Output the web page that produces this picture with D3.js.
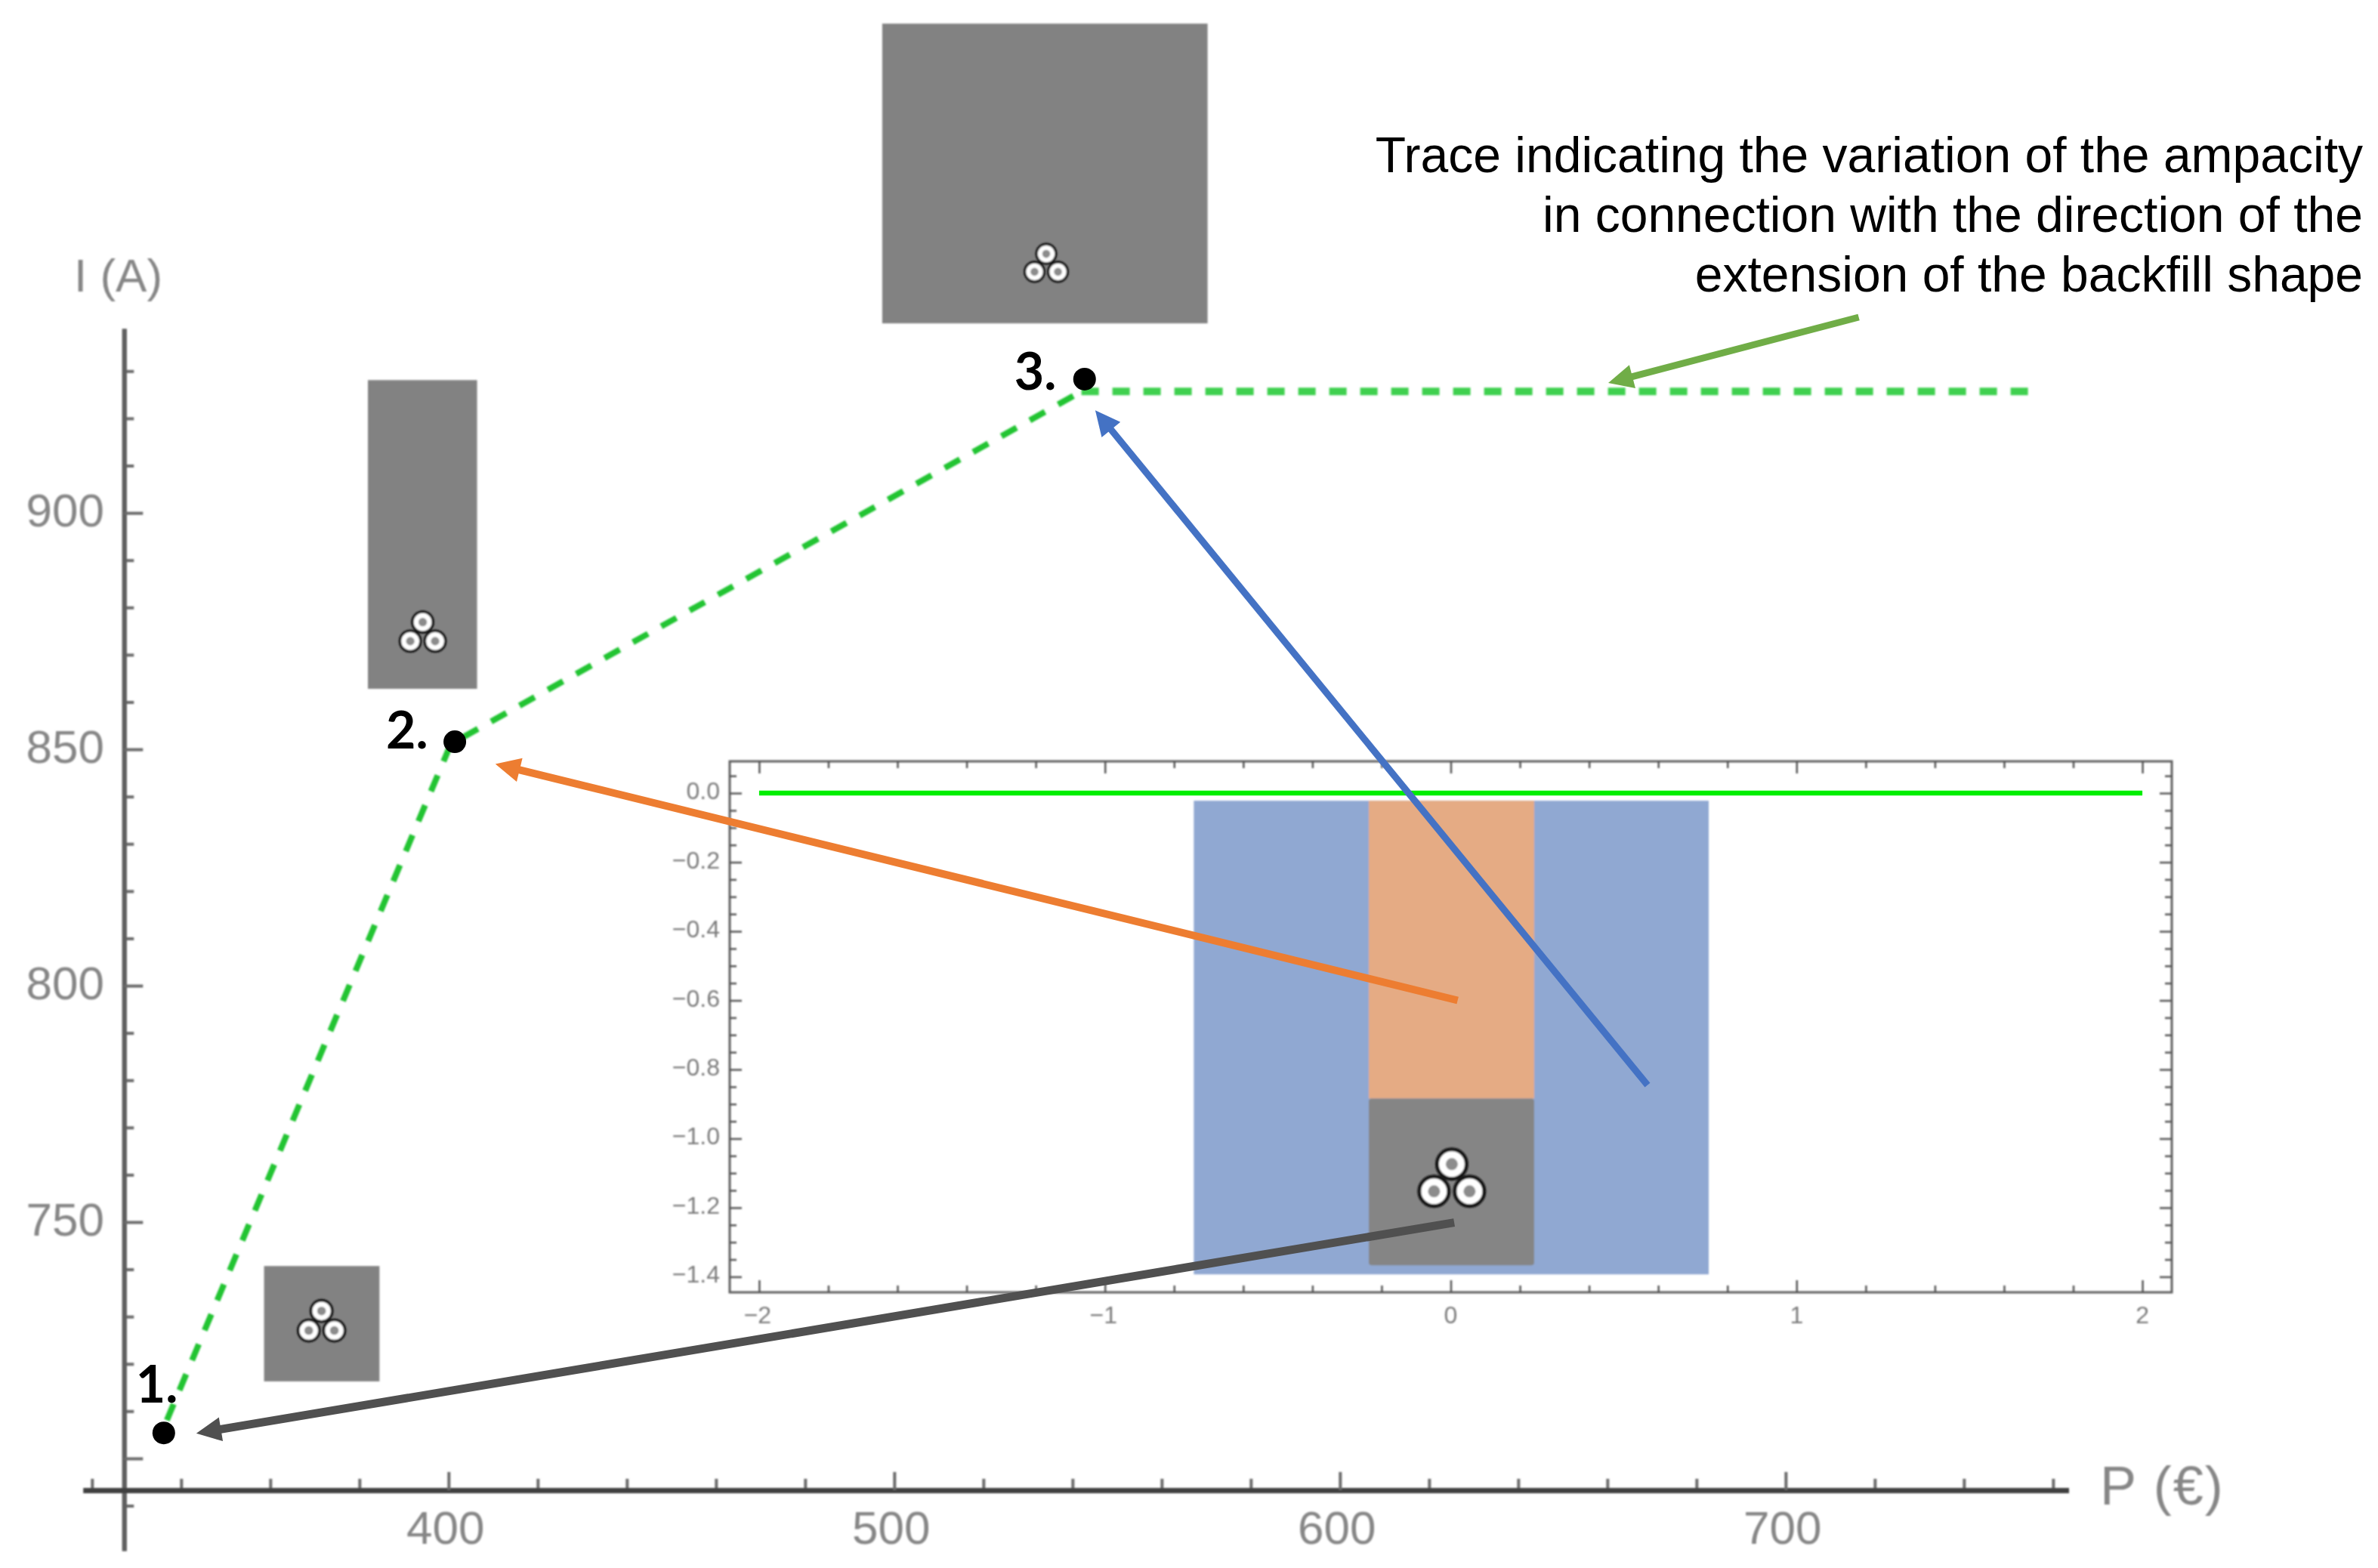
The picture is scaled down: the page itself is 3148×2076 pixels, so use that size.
<!DOCTYPE html>
<html>
<head>
<meta charset="utf-8">
<script src="https://cdnjs.cloudflare.com/ajax/libs/d3/7.8.5/d3.min.js"></script>
<style>html,body{margin:0;padding:0;background:#fff}svg{display:block}</style>
</head>
<body>
<script>
// Main chart: trace of I (A) against P (€)
const traceRiseP = [336.8, 400.5, 542];
const traceRiseI = [708.1, 851.1, 925.7];
const traceFlatP = [542, 754.7];
const traceFlatI = [925.7, 925.7];
const pointP = [336.1, 401.4, 542.7];
const pointI = [705.4, 851.6, 928.3];
const pointLabels = ["1.", "2.", "3."];
const pTickLabels = [400, 500, 600, 700];
const pTickMinor = [320, 340, 360, 380, 420, 440, 460, 480, 520, 540, 560, 580, 620, 640, 660, 680, 720, 740, 760];
const iTickLabels = [750, 800, 850, 900];
const iTickMajor = [700, 750, 800, 850, 900];
const iTickMinor = [690, 710, 720, 730, 740, 760, 770, 780, 790, 810, 820, 830, 840, 860, 870, 880, 890, 910, 920, 930];
// Backfill shapes placed on the main chart
const boxP0 = [358.6, 381.9, 497.3];
const boxP1 = [384.5, 406.4, 570.3];
const boxI0 = [740.7, 928.1, 1003.5];
const boxI1 = [716.3, 862.8, 940.1];
const triadP = [371.5, 394.2, 534.1];
const triadI = [731.2, 876.9, 954.8];
const triadSize = [0.72, 0.70, 0.66];
// Inset: cross-section
const insetLineX = [-2, 2];
const insetLineY = [0, 0];
const blueX = [-0.743, 0.746];
const blueY = [-0.022, -1.393];
const orangeX = [-0.237, 0.2413];
const orangeY = [-0.022, -0.884];
const greyX = [-0.237, 0.2413];
const greyY = [-0.884, -1.367];
const insetTriadX = 0.003;
const insetTriadY = -1.074;
const insetXMajor = [-2, -1, 0, 1, 2];
const insetXMinor = [-1.8,-1.6,-1.4,-1.2,-0.8,-0.6,-0.4,-0.2,0.2,0.4,0.6,0.8,1.2,1.4,1.6,1.8];
const insetYMajor = [0, -0.2, -0.4, -0.6, -0.8, -1.0, -1.2, -1.4];
const insetYMinor = [0.05,-0.05,-0.1,-0.15,-0.25,-0.3,-0.35,-0.45,-0.5,-0.55,-0.65,-0.7,-0.75,-0.85,-0.9,-0.95,-1.05,-1.1,-1.15,-1.25,-1.3,-1.35];
// Arrows: start and tip
const arrowColors = ["#505050", "#ED7D31", "#4472C4"];
const arrowWidths = [11, 10, 9];
const arrowStartX = [0.01, 0.02, 0.569];
const arrowStartY = [-1.243, -0.6, -0.845];
const arrowTipP = [343.4, 410.5, 545.1];
const arrowTipI = [705.3, 846.9, 921.7];
const noteArrowP = [716.4, 660.2];
const noteArrowI = [941.4, 927.5];
const noteLines = ["Trace indicating the variation of the ampacity",
                   "in connection with the direction of the",
                   "extension of the backfill shape"];

const W = 3148, H = 2076;
const svg = d3.select("body").append("svg").attr("width", W).attr("height", H)
  .style("background", "#fff");
const defs = svg.append("defs");
function blur(id, s){
  defs.append("filter").attr("id", id).attr("filterUnits", "userSpaceOnUse")
    .attr("x", 0).attr("y", 0).attr("width", W).attr("height", H)
    .append("feGaussianBlur").attr("stdDeviation", s);
}
blur("soft", 1.1); blur("softer", 0.8);

const x = d3.scaleLinear().domain([318, 763.5]).range([110, 2738.5]);
const y = d3.scaleLinear().domain([939, 680.5]).range([435, 2053]);
const xI = d3.scaleLinear().domain([-2.085, 2.085]).range([966, 2875]);
const yI = d3.scaleLinear().domain([0.092, -1.445]).range([1008, 1711]);

const AXIS_I = 693.3, AXIS_P = 327.2;
const sans = "'Liberation Sans', Arial, sans-serif";

// main axes
const axesG = svg.append("g").attr("filter", "url(#softer)");
function ax(gen, tx, ty, size, color, w){
  const g = axesG.append("g").attr("transform", `translate(${tx},${ty})`)
    .call(gen.tickSizeInner(size).tickSizeOuter(0).tickFormat(""));
  g.selectAll(".domain").attr("stroke", color).attr("stroke-width", w);
  g.selectAll(".tick line").attr("stroke", "#6a6a6a").attr("stroke-width", 4);
  g.selectAll("text").remove();
  return g;
}
const yAxisX = x(AXIS_P), xAxisY = y(AXIS_I);
ax(d3.axisRight(y).tickValues(iTickMinor), yAxisX, 0, 13, "#5f5f5f", 6);
ax(d3.axisRight(y).tickValues(iTickMajor), yAxisX, 0, 25, "#5f5f5f", 6);
ax(d3.axisTop(x).tickValues(pTickMinor), 0, xAxisY, 15, "#3f3f3f", 7);
ax(d3.axisTop(x).tickValues(pTickLabels), 0, xAxisY, 24, "#3f3f3f", 7);

const labG = svg.append("g").attr("filter", "url(#softer)").attr("font-family", sans).attr("fill", "#868686");
labG.selectAll("text.yl").data(iTickLabels).join("text").attr("class", "yl")
  .attr("x", 138).attr("y", d => y(d) + 18).attr("text-anchor", "end").attr("font-size", 62).text(d => d);
labG.selectAll("text.xl").data(pTickLabels).join("text").attr("class", "xl")
  .attr("x", d => x(d) - 4).attr("y", 2044).attr("text-anchor", "middle").attr("font-size", 62).text(d => d);
labG.append("text").attr("x", 98).attr("y", 386).attr("font-size", 62).text("I (A)");
labG.append("text").attr("x", 2780).attr("y", 1992).attr("font-size", 72).attr("letter-spacing", 2).text("P (€)");

// cable triad
function triad(parent, cx, cy, k){
  const dx = 23.5 * k, dy = 36 * k;
  const g = parent.append("g").attr("filter", "url(#soft)");
  [[0, 0], [-dx, dy], [dx, dy]].forEach(([a, b]) => {
    g.append("circle").attr("cx", cx + a).attr("cy", cy + b).attr("r", 19.5 * k)
      .attr("fill", "#fff").attr("stroke", "#161616").attr("stroke-width", 5 * k);
    g.append("circle").attr("cx", cx + a).attr("cy", cy + b).attr("r", 8 * k).attr("fill", "#8c8c8c");
  });
}

// inset
const insetG = svg.append("g");
const plotG = insetG.append("g").attr("filter", "url(#softer)");
plotG.append("rect").attr("x", xI(blueX[0])).attr("y", yI(blueY[0]))
  .attr("width", xI(blueX[1]) - xI(blueX[0])).attr("height", yI(blueY[1]) - yI(blueY[0])).attr("fill", "#90A8D2");
plotG.append("rect").attr("x", xI(orangeX[0])).attr("y", yI(orangeY[0]))
  .attr("width", xI(orangeX[1]) - xI(orangeX[0])).attr("height", yI(orangeY[1]) - yI(orangeY[0])).attr("fill", "#E5AB84");
plotG.append("rect").attr("x", xI(greyX[0])).attr("y", yI(greyY[0])).attr("rx", 4)
  .attr("width", xI(greyX[1]) - xI(greyX[0])).attr("height", yI(greyY[1]) - yI(greyY[0])).attr("fill", "#858585");
triad(insetG, xI(insetTriadX), yI(insetTriadY), 1);
const lineI = d3.line().x(d => xI(d[0])).y(d => yI(d[1]));
insetG.append("path").attr("d", lineI(d3.zip(insetLineX, insetLineY)))
  .attr("fill", "none").attr("stroke", "#00EE00").attr("stroke-width", 6.5);

const frameG = insetG.append("g").attr("filter", "url(#softer)");
frameG.append("rect").attr("x", 966).attr("y", 1008).attr("width", 1909).attr("height", 703)
  .attr("fill", "none").attr("stroke", "#5e5e5e").attr("stroke-width", 3);
function insetAxis(gen, tx, ty){
  const g = frameG.append("g").attr("transform", `translate(${tx},${ty})`).call(gen);
  g.selectAll(".domain").remove();
  g.selectAll("text").remove();
  g.selectAll(".tick line").attr("stroke", "#555").attr("stroke-width", 2.5);
}
[[insetXMajor, 16], [insetXMinor, 9]].forEach(([v, s]) => {
  insetAxis(d3.axisTop(xI).tickValues(v).tickSize(s).tickFormat(""), 0, 1711);
  insetAxis(d3.axisBottom(xI).tickValues(v).tickSize(s).tickFormat(""), 0, 1008);
});
[[insetYMajor, 16], [insetYMinor, 9]].forEach(([v, s]) => {
  insetAxis(d3.axisRight(yI).tickValues(v).tickSize(s).tickFormat(""), 966, 0);
  insetAxis(d3.axisLeft(yI).tickValues(v).tickSize(s).tickFormat(""), 2875, 0);
});
const insetText = insetG.append("g").attr("filter", "url(#softer)").attr("font-family", sans)
  .attr("fill", "#7c7c7c").attr("font-size", 32);
insetText.selectAll("text.iy").data(insetYMajor).join("text").attr("class", "iy")
  .attr("x", 953).attr("y", d => yI(d) + 8).attr("text-anchor", "end")
  .text(d => d3.format(".1f")(d).replace("-", "\u2212"));
insetText.selectAll("text.ix").data(insetXMajor).join("text").attr("class", "ix")
  .attr("x", d => xI(d) - (d < 0 ? 2 : 0)).attr("y", 1752).attr("text-anchor", "middle")
  .text(d => String(d).replace("-", "\u2212"));

// backfill boxes on main chart
const boxG = svg.append("g").attr("filter", "url(#softer)");
boxP0.forEach((p0, i) => {
  boxG.append("rect").attr("x", x(p0)).attr("y", y(boxI0[i]))
    .attr("width", x(boxP1[i]) - x(p0)).attr("height", y(boxI1[i]) - y(boxI0[i])).attr("fill", "#828282");
});
triadP.forEach((p, i) => triad(svg, x(p), y(triadI[i]), triadSize[i]));

// dashed trace
const lineMain = d3.line().x(d => x(d[0])).y(d => y(d[1]));
const traceG = svg.append("g").attr("filter", "url(#softer)").attr("fill", "none");
traceG.append("path").attr("d", lineMain(d3.zip(traceRiseP, traceRiseI)))
  .attr("stroke", "#22C433").attr("stroke-width", 8).attr("stroke-dasharray", "23 20");
traceG.append("path").attr("d", lineMain(d3.zip(traceFlatP, traceFlatI)))
  .attr("stroke", "#3FD04F").attr("stroke-width", 10).attr("stroke-dasharray", "23 18");

// arrows
function arrow(px0, py0, px1, py1, color, w){
  const len = Math.hypot(px1 - px0, py1 - py0);
  const ux = (px1 - px0) / len, uy = (py1 - py0) / len;
  const hl = 33, hw = 16;
  const bx = px1 - ux * hl, by = py1 - uy * hl;
  svg.append("line").attr("x1", px0).attr("y1", py0).attr("x2", bx + ux * 2).attr("y2", by + uy * 2)
    .attr("stroke", color).attr("stroke-width", w);
  svg.append("path").attr("fill", color)
    .attr("d", `M${px1},${py1}L${bx - uy * hw},${by + ux * hw}L${bx + uy * hw},${by - ux * hw}Z`);
}
arrow(x(noteArrowP[0]), y(noteArrowI[0]), x(noteArrowP[1]), y(noteArrowI[1]), "#70AD47", 9);
arrowColors.forEach((c, i) => arrow(xI(arrowStartX[i]), yI(arrowStartY[i]), x(arrowTipP[i]), y(arrowTipI[i]), c, arrowWidths[i]));

// points and labels
svg.selectAll("circle.pt").data(pointP).join("circle").attr("class", "pt")
  .attr("cx", d => x(d)).attr("cy", (d, i) => y(pointI[i])).attr("r", 15).attr("fill", "#000");
const labelDx = [-37, -91, -93], labelDy = [-40, 9, 14];
svg.selectAll("text.pl").data(pointLabels).join("text").attr("class", "pl")
  .attr("x", (d, i) => x(pointP[i]) + labelDx[i]).attr("y", (d, i) => y(pointI[i]) + labelDy[i])
  .attr("font-family", "Lato, sans-serif").attr("font-weight", 700).attr("font-size", 68)
  .attr("fill", "#000").text(d => d);

// annotation
svg.selectAll("text.note").data(noteLines).join("text").attr("class", "note")
  .attr("x", 3128).attr("y", (d, i) => [228, 307, 386][i]).attr("text-anchor", "end")
  .attr("font-family", sans).attr("font-size", 66).attr("fill", "#000").text(d => d);
</script>
</body>
</html>
